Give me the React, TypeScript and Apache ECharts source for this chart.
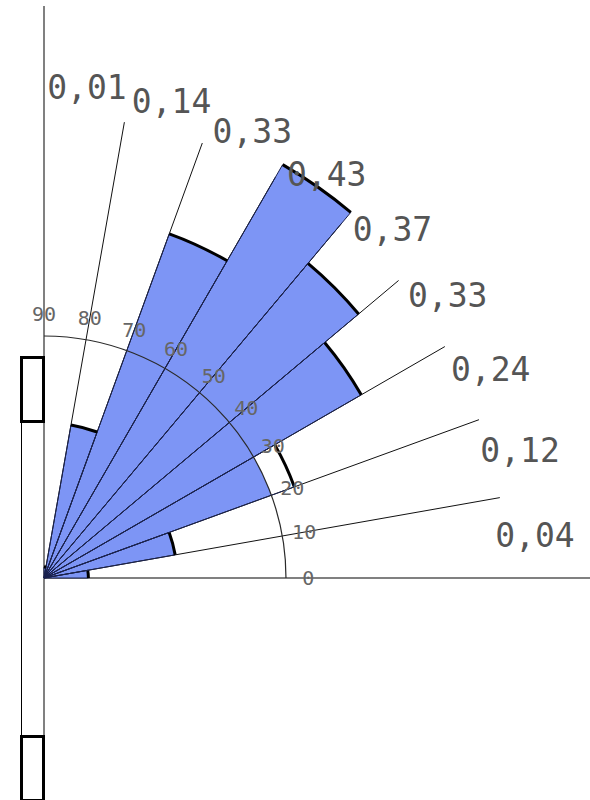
import React, { useEffect, useRef } from "react";
import * as echarts from "echarts";

// Rose diagram: frequency per 10° direction class, 0°–90°
const classStart = [0, 10, 20, 30, 40, 50, 60, 70, 80];
const frequency = [0.04, 0.12, 0.24, 0.33, 0.37, 0.43, 0.33, 0.14, 0.01];
const valueLabels = ["0,04", "0,12", "0,24", "0,33", "0,37", "0,43", "0,33", "0,14", "0,01"];
// class whose hatch only reaches the reference ring
const hatchToRing = [false, false, true, false, false, false, false, false, false];
const rayAngles = [10, 20, 30, 40, 50, 60, 70, 80];
const angleTicks = [0, 10, 20, 30, 40, 50, 60, 70, 80, 90];
const angleTickLabels = ["0", "10", "20", "30", "40", "50", "60", "70", "80", "90"];

// radial layout, in frequency units
const RADIUS_MAX = 0.5;
const RING = 0.218;
const TICK_LABEL_R = 0.238;
const RAY_LEN = 0.417;
const VALUE_LABEL_R = 0.444;

const FILL = "#7d95f5";
const DEG = Math.PI / 180;

function radiusPx(api: any, v: number) {
  const c = api.coord([0, 0]);
  const p = api.coord([v, 0]);
  return Math.hypot(p[0] - c[0], p[1] - c[1]);
}

export default function App() {
  const ref = useRef<HTMLDivElement>(null);

  useEffect(() => {
    document.body.style.margin = "0";
    const chart = echarts.init(ref.current!, null, { renderer: "svg" });

    const sectorData = classStart.map((a, i) => [frequency[i], a, i]);

    chart.setOption({
      animation: false,
      backgroundColor: "#ffffff",
      polar: { center: [44, 578], radius: 555 },
      angleAxis: {
        type: "value",
        min: 0,
        max: 360,
        startAngle: 0,
        clockwise: false,
        show: false,
      },
      radiusAxis: { type: "value", min: 0, max: RADIUS_MAX, show: false },
      graphic: [
        { type: "line", z: 1, shape: { x1: 44, y1: 578, x2: 590, y2: 578 }, style: { stroke: "#808080", lineWidth: 2 } },
        { type: "line", z: 1, shape: { x1: 44, y1: 6, x2: 44, y2: 800 }, style: { stroke: "#808080", lineWidth: 2 } },
        { type: "line", z: 10, shape: { x1: 21.5, y1: 422, x2: 21.5, y2: 736 }, style: { stroke: "#000", lineWidth: 1 } },
        { type: "rect", z: 10, shape: { x: 21.5, y: 357.5, width: 22, height: 64 }, style: { fill: "#fff", stroke: "#000", lineWidth: 3 } },
        { type: "rect", z: 10, shape: { x: 21.5, y: 736.5, width: 22, height: 64 }, style: { fill: "#fff", stroke: "#000", lineWidth: 3 } },
      ],
      series: [
        {
          // hatched sectors
          type: "custom",
          coordinateSystem: "polar",
          z: 2,
          data: sectorData,
          renderItem: (params: any, api: any) => {
            const v = api.value(0);
            const a0 = api.value(1);
            const i = api.value(2);
            const a1 = a0 + 10;
            const c = api.coord([0, 0]);
            const r = radiusPx(api, hatchToRing[i] ? Math.min(v, RING) : v);
            return {
              type: "sector",
              shape: { cx: c[0], cy: c[1], r0: 0, r, startAngle: -a1 * DEG, endAngle: -a0 * DEG, clockwise: true },
              style: { fill: FILL, stroke: null },
            };
          },
        },
        {
          // direction rays
          type: "custom",
          coordinateSystem: "polar",
          z: 3,
          data: rayAngles.map((a) => [RAY_LEN, a]),
          renderItem: (params: any, api: any) => {
            const c = api.coord([0, 0]);
            const p = api.coord([api.value(0), api.value(1)]);
            return {
              type: "line",
              shape: { x1: c[0], y1: c[1], x2: p[0], y2: p[1] },
              style: { stroke: "#111", lineWidth: 1 },
            };
          },
        },
        {
          // sector edges and outer arcs
          type: "custom",
          coordinateSystem: "polar",
          z: 4,
          data: sectorData,
          renderItem: (params: any, api: any) => {
            const v = api.value(0);
            const a0 = api.value(1);
            const a1 = a0 + 10;
            const c = api.coord([0, 0]);
            const p0 = api.coord([v, a0]);
            const p1 = api.coord([v, a1]);
            const r = radiusPx(api, v);
            return {
              type: "group",
              children: [
                { type: "line", shape: { x1: c[0], y1: c[1], x2: p0[0], y2: p0[1] }, style: { stroke: "#1a2250", lineWidth: 1 } },
                { type: "line", shape: { x1: c[0], y1: c[1], x2: p1[0], y2: p1[1] }, style: { stroke: "#1a2250", lineWidth: 1 } },
                {
                  type: "arc",
                  shape: { cx: c[0], cy: c[1], r, startAngle: -a1 * DEG, endAngle: -a0 * DEG, clockwise: true },
                  style: { stroke: "#000", lineWidth: 3, fill: null },
                },
              ],
            };
          },
        },
        {
          // reference ring
          type: "custom",
          coordinateSystem: "polar",
          z: 5,
          data: [[RING, 0]],
          renderItem: (params: any, api: any) => {
            const c = api.coord([0, 0]);
            const r = radiusPx(api, api.value(0));
            return {
              type: "arc",
              shape: { cx: c[0], cy: c[1], r, startAngle: -90 * DEG, endAngle: 0, clockwise: true },
              style: { stroke: "#2a2a2a", lineWidth: 1.2, fill: null },
            };
          },
        },
        {
          // angle tick labels
          type: "custom",
          coordinateSystem: "polar",
          z: 6,
          data: angleTicks.map((a, i) => [TICK_LABEL_R, a, i]),
          renderItem: (params: any, api: any) => {
            const p = api.coord([api.value(0), api.value(1)]);
            return {
              type: "text",
              x: p[0],
              y: p[1],
              style: {
                text: angleTickLabels[api.value(2)],
                font: '20px "DejaVu Sans Mono"',
                fill: "#666",
                align: "center",
                verticalAlign: "middle",
              },
            };
          },
        },
        {
          // frequency labels
          type: "custom",
          coordinateSystem: "polar",
          z: 6,
          data: classStart.map((a, i) => [VALUE_LABEL_R, a + 5, i]),
          renderItem: (params: any, api: any) => {
            const p = api.coord([api.value(0), api.value(1)]);
            return {
              type: "text",
              x: p[0],
              y: p[1],
              style: {
                text: valueLabels[api.value(2)],
                font: '33px "DejaVu Sans Mono"',
                fill: "#555",
                align: "center",
                verticalAlign: "middle",
              },
            };
          },
        },
      ],
    });

    return () => chart.dispose();
  }, []);

  return (
    <div
      ref={ref}
      style={{ position: "absolute", left: 0, top: 0, width: 590, height: 800 }}
    />
  );
}
